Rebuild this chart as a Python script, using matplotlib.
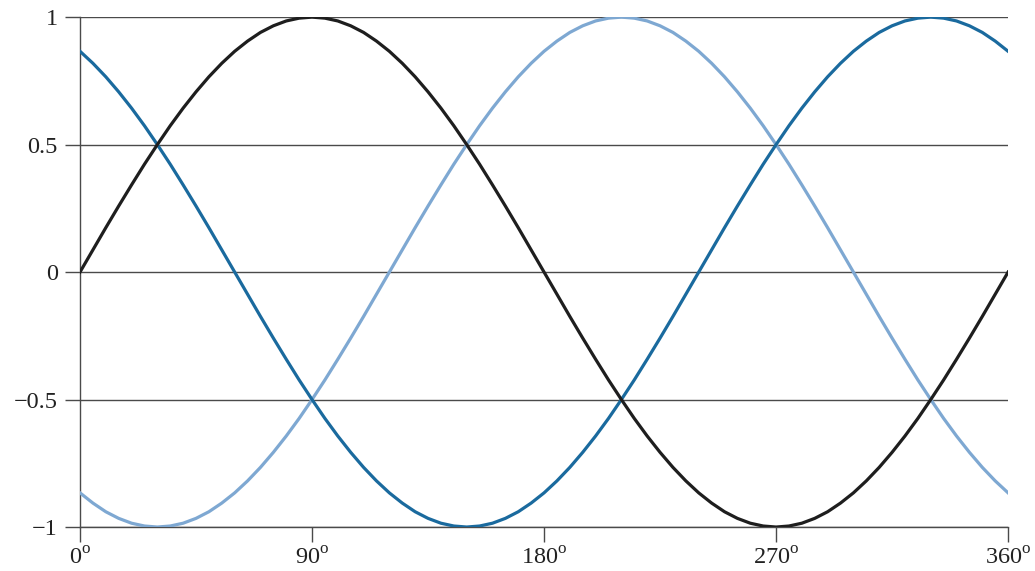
import matplotlib
matplotlib.use('Agg')
import matplotlib.pyplot as plt

# Angles in degrees (sampled every 5 degrees)
angles = list(range(0, 361, 5))

# Black curve
phase_a = [0, 0.087, 0.174, 0.259, 0.342, 0.423, 0.5, 0.574, 0.643, 0.707,
           0.766, 0.819, 0.866, 0.906, 0.940, 0.966, 0.985, 0.996, 1,
           0.996, 0.985, 0.966, 0.940, 0.906, 0.866, 0.819, 0.766, 0.707,
           0.643, 0.574, 0.5, 0.423, 0.342, 0.259, 0.174, 0.087, 0,
           -0.087, -0.174, -0.259, -0.342, -0.423, -0.5, -0.574, -0.643, -0.707,
           -0.766, -0.819, -0.866, -0.906, -0.940, -0.966, -0.985, -0.996, -1,
           -0.996, -0.985, -0.966, -0.940, -0.906, -0.866, -0.819, -0.766, -0.707,
           -0.643, -0.574, -0.5, -0.423, -0.342, -0.259, -0.174, -0.087, 0]

# Dark blue curve
phase_b = [0.866, 0.819, 0.766, 0.707, 0.643, 0.574, 0.5, 0.423, 0.342, 0.259,
           0.174, 0.087, 0,
           -0.087, -0.174, -0.259, -0.342, -0.423, -0.5, -0.574, -0.643, -0.707,
           -0.766, -0.819, -0.866, -0.906, -0.940, -0.966, -0.985, -0.996, -1,
           -0.996, -0.985, -0.966, -0.940, -0.906, -0.866, -0.819, -0.766, -0.707,
           -0.643, -0.574, -0.5, -0.423, -0.342, -0.259, -0.174, -0.087, 0,
           0.087, 0.174, 0.259, 0.342, 0.423, 0.5, 0.574, 0.643, 0.707,
           0.766, 0.819, 0.866, 0.906, 0.940, 0.966, 0.985, 0.996, 1,
           0.996, 0.985, 0.966, 0.940, 0.906, 0.866]

# Light blue curve
phase_c = [-0.866, -0.906, -0.940, -0.966, -0.985, -0.996, -1,
           -0.996, -0.985, -0.966, -0.940, -0.906, -0.866, -0.819, -0.766, -0.707,
           -0.643, -0.574, -0.5, -0.423, -0.342, -0.259, -0.174, -0.087, 0,
           0.087, 0.174, 0.259, 0.342, 0.423, 0.5, 0.574, 0.643, 0.707,
           0.766, 0.819, 0.866, 0.906, 0.940, 0.966, 0.985, 0.996, 1,
           0.996, 0.985, 0.966, 0.940, 0.906, 0.866, 0.819, 0.766, 0.707,
           0.643, 0.574, 0.5, 0.423, 0.342, 0.259, 0.174, 0.087, 0,
           -0.087, -0.174, -0.259, -0.342, -0.423, -0.5, -0.574, -0.643, -0.707,
           -0.766, -0.819, -0.866]

x_ticks = [0, 90, 180, 270, 360]
x_labels = [r'0$^{\rm o}$', r'90$^{\rm o}$', r'180$^{\rm o}$', r'270$^{\rm o}$', r'360$^{\rm o}$']
y_ticks = [-1, -0.5, 0, 0.5, 1]
y_labels = ['\u22121', '\u22120.5', '0', '0.5', '1']

plt.rcParams['font.family'] = ['Liberation Serif', 'DejaVu Serif']
plt.rcParams['mathtext.fontset'] = 'custom'
plt.rcParams['mathtext.rm'] = 'Liberation Serif'

fig = plt.figure(figsize=(10.35, 5.71), dpi=100)
ax = fig.add_axes([0.0773, 0.077, 0.8967, 0.893])

for y in y_ticks:
    ax.axhline(y, color='#4a4a4a', lw=1.0, zorder=1)

ax.plot(angles, phase_c, color='#7ea8d2', lw=2.3, zorder=3)
ax.plot(angles, phase_b, color='#1a6a9e', lw=2.3, zorder=3)
ax.plot(angles, phase_a, color='#1e1e1e', lw=2.3, zorder=4)

ax.set_xlim(0, 360)
ax.set_ylim(-1, 1)
ax.set_xticks(x_ticks)
ax.set_xticklabels(x_labels)
ax.set_yticks(y_ticks)
ax.set_yticklabels(y_labels)

for side in ['top', 'right']:
    ax.spines[side].set_visible(False)
for side in ['left', 'bottom']:
    ax.spines[side].set_color('#4a4a4a')
    ax.spines[side].set_linewidth(1.0)

ax.tick_params(axis='both', direction='out', length=10.5, width=1.0,
               color='#4a4a4a', labelsize=17.5, labelcolor='#222222')
ax.tick_params(axis='x', pad=4)
ax.tick_params(axis='y', pad=5.5)
for label in ax.get_xticklabels() + ax.get_yticklabels():
    label.set_clip_on(False)

fig.savefig('out.png', dpi=100)
